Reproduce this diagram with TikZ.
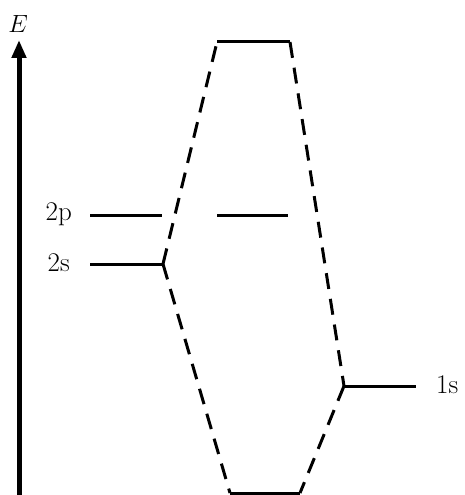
\documentclass[tikz,border=0pt]{standalone}
\usetikzlibrary{arrows.meta}
\begin{document}
\begin{tikzpicture}[x=1pt,y=-1pt,
  level/.style={line width=3pt},
  link/.style={line width=3pt,dash pattern=on 16pt off 10pt},
  lab/.style={font=\fontsize{27}{30}\selectfont,inner sep=0pt}]
\useasboundingbox (0,0) rectangle (465,495);
% axis
\coordinate (ab) at (19,495);
\coordinate (at) at (19,40);
\draw[line width=5pt,-{Triangle[length=18pt,width=14pt]}] (ab) -- (at);
\node[lab] (E) at (18,24) {$E$};
% levels
\coordinate (tl) at (217,42);  \coordinate (tr) at (290,42);
\coordinate (pl) at (90,215);  \coordinate (pr) at (162,215);
\coordinate (ql) at (217,215); \coordinate (qr) at (288,215);
\coordinate (sl) at (90,264);  \coordinate (sr) at (163,264);
\coordinate (hl) at (344,386); \coordinate (hr) at (416,386);
\coordinate (bl) at (230,493); \coordinate (br) at (300,493);
\draw[level] (tl) -- (tr);
\draw[level] (pl) -- (pr);
\draw[level] (ql) -- (qr);
\draw[level] (sl) -- (sr);
\draw[level] (hl) -- (hr);
\draw[level] (bl) -- (br);
% labels
\node[lab,anchor=east] (l2p) at (72,214) {2p};
\node[lab,anchor=east] (l2s) at (70,263) {2s};
\node[lab,anchor=west] (l1s) at (436,385) {1s};
% correlation lines
\draw[link] (sr) -- (tl);
\draw[link] (tr) -- (hl);
\draw[link] (sr) -- (bl);
\draw[link] (hl) -- (br);
\end{tikzpicture}
\end{document}
